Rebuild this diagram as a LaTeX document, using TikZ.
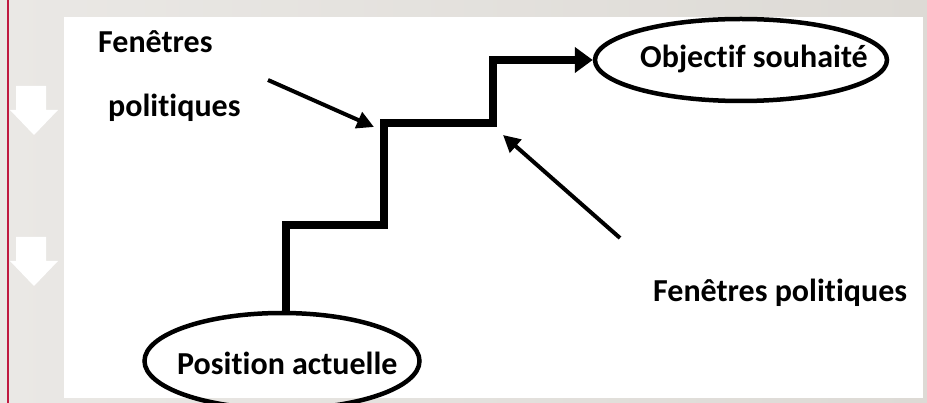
\documentclass[tikz,border=0pt]{standalone}
\usepackage{fontspec}
\setmainfont{Carlito}[RawFeature={-liga;-clig}]
\usetikzlibrary{arrows.meta,shapes.geometric}
\definecolor{bgA}{HTML}{EAE8E5}
\definecolor{bgB}{HTML}{DDDAD5}
\definecolor{redline}{HTML}{C01A40}
\begin{document}
\begin{tikzpicture}[x=1pt,y=-1pt,
  lbl/.style={font=\fontsize{32}{37}\selectfont\bfseries, inner sep=0pt, anchor=base west},
  oval/.style={draw=black, line width=4.5pt, ellipse, inner sep=0pt},
  stair/.style={line width=8pt, line join=miter, line cap=butt, -{Triangle[length=18pt,width=25pt]}},
  pointer/.style={line width=4pt, line cap=butt, -{Triangle[length=17pt,width=17pt]}},
  downarrow/.style={fill=white, draw=none}]
\useasboundingbox (0,0) rectangle (927,403);
\shade[left color=bgA, right color=bgB] (0,0) rectangle (927,403);
\draw[redline, line width=2pt] (8,0) -- (8,403);
\fill[white] (64,17) rectangle (923,398);
% margin arrows
\fill[downarrow] (16,86) -- (46,86) -- (46,110) -- (58,110) -- (34,135) -- (10,110) -- (16,110) -- cycle;
\fill[downarrow] (16,237) -- (46,237) -- (46,261) -- (58,261) -- (34,286) -- (10,261) -- (16,261) -- cycle;
% ellipses
\node[oval, minimum width=292pt, minimum height=82pt] (obj) at (741,60) {};
\node[oval, minimum width=275pt, minimum height=96pt] (pos) at (282,361) {};
% texts
\node[lbl] (objt) at (640,68) {Objectif souhaité};
\node[lbl] (post) at (177,375) {Position actuelle};
\node[lbl] (fen1) at (98,53) {Fenêtres};
\node[lbl] (pol1) at (108,117) {politiques};
\node[lbl] (fen2) at (653,302) {Fenêtres politiques};
% staircase
\coordinate (s0) at (286,313);
\coordinate (s1) at (384,225);
\coordinate (s2) at (493,123);
\draw[stair] (s0) |- (s1) |- (s2) |- (obj.west);
% pointers
\coordinate (a1) at (268,80);
\coordinate (a1t) at (374,127);
\coordinate (a2) at (620,238);
\coordinate (a2t) at (503,135);
\draw[pointer] (a1) -- (a1t);
\draw[pointer] (a2) -- (a2t);
\end{tikzpicture}
\end{document}
